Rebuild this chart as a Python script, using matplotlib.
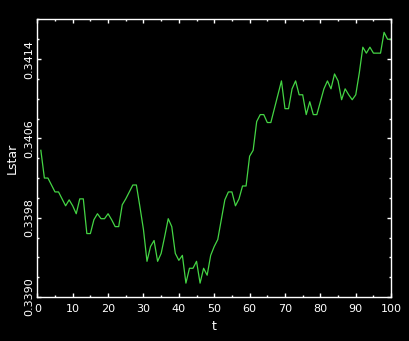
import numpy as np
import matplotlib
matplotlib.use('Agg')
import matplotlib.pyplot as plt
from matplotlib.ticker import MultipleLocator, FixedLocator, FormatStrFormatter

# Lstar, one value per step t = 1..100
t = np.arange(1, 101)
lstar = [
    0.34048, 0.34020, 0.34020, 0.34013, 0.34006, 0.34006, 0.33999, 0.33992, 0.33998, 0.33992,
    0.33984, 0.33999, 0.33999, 0.33964, 0.33964, 0.33978, 0.33984, 0.33979, 0.33979, 0.33984,
    0.33978, 0.33971, 0.33971, 0.33993, 0.33999, 0.34006, 0.34013, 0.34013, 0.33991, 0.33968,
    0.33936, 0.33951, 0.33957, 0.33936, 0.33944, 0.33961, 0.33979, 0.33971, 0.33944, 0.33937,
    0.33942, 0.33914, 0.33929, 0.33929, 0.33936, 0.33914, 0.33929, 0.33922, 0.33942, 0.33951,
    0.33958, 0.33978, 0.33998, 0.34006, 0.34006, 0.33992, 0.33999, 0.34012, 0.34012, 0.34042,
    0.34048, 0.34077, 0.34084, 0.34084, 0.34076, 0.34076, 0.34090, 0.34104, 0.34118, 0.34090,
    0.34090, 0.34110, 0.34118, 0.34104, 0.34104, 0.34084, 0.34097, 0.34084, 0.34084, 0.34097,
    0.34110, 0.34118, 0.34110, 0.34125, 0.34118, 0.34099, 0.34110, 0.34104, 0.34099, 0.34104,
    0.34126, 0.34152, 0.34146, 0.34152, 0.34146, 0.34146, 0.34146, 0.34167, 0.34160, 0.34160,
]
yticks = [0.3390, 0.3398, 0.3406, 0.3414]

fig = plt.figure(figsize=(4.1, 3.41), dpi=100, facecolor='black')
ax = fig.add_axes([0.091, 0.129, 0.863, 0.814], facecolor='black')

ax.plot(t, lstar, color='#44d444', lw=0.9)

ax.set_xlim(0, 100)
ax.set_ylim(0.3390, 0.3418)

ax.xaxis.set_major_locator(MultipleLocator(10))
ax.xaxis.set_minor_locator(MultipleLocator(5))
ax.yaxis.set_major_locator(FixedLocator(yticks))
ax.yaxis.set_minor_locator(MultipleLocator(0.0002))
ax.yaxis.set_major_formatter(FormatStrFormatter('%.4f'))

for s in ax.spines.values():
    s.set_color('white')
    s.set_linewidth(1.0)

ax.tick_params(which='both', direction='in', colors='white', top=True, right=True,
               labelsize=8)
ax.tick_params(axis='y', pad=2)
ax.tick_params(axis='x', pad=5)
ax.tick_params(which='major', length=3, width=1)
ax.tick_params(which='minor', length=1.5, width=1)
for lab in ax.get_yticklabels():
    lab.set_rotation(90)
    lab.set_va('center')

ax.set_xlabel('t', color='white', fontsize=9, labelpad=4)
ax.set_ylabel('Lstar', color='white', fontsize=9, labelpad=4)

fig.savefig('out.png', dpi=100, facecolor='black')
